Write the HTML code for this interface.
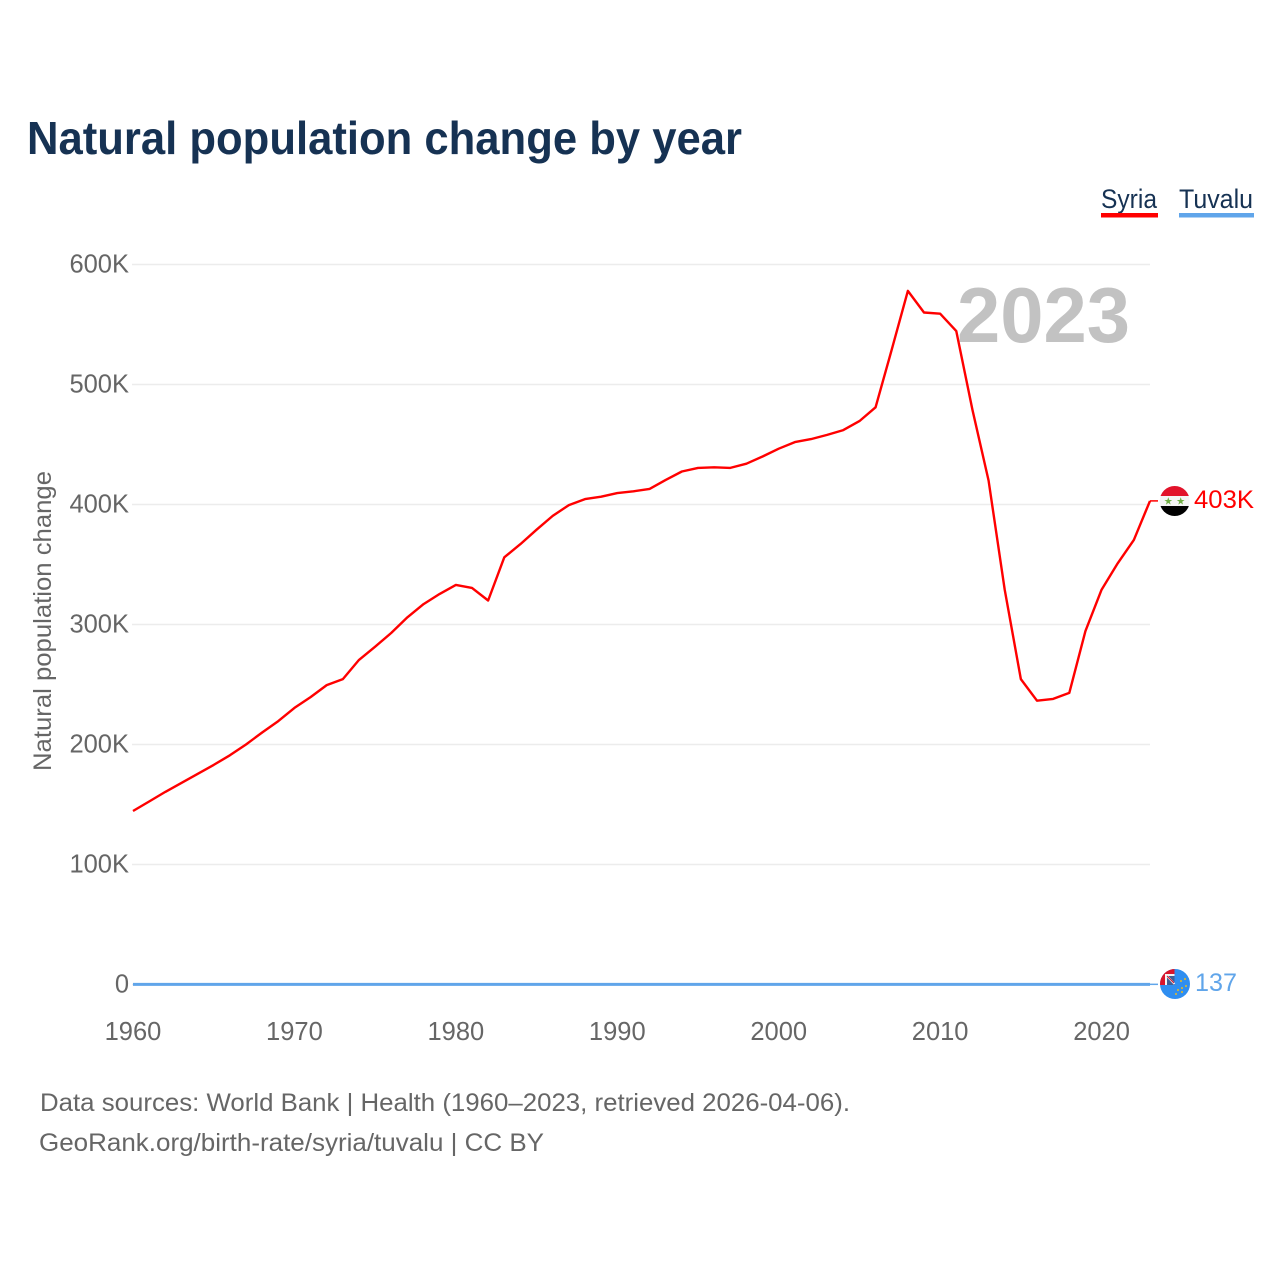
<!DOCTYPE html>
<html lang="en">
<head>
<meta charset="utf-8">
<title>Natural population change by year</title>
<style>
html,body{margin:0;padding:0;background:#fff;width:1280px;height:1280px;overflow:hidden}
svg{display:block;font-family:"Liberation Sans",sans-serif}
</style>
</head>
<body>
<svg id="chart" xmlns="http://www.w3.org/2000/svg" width="1280" height="1280" viewBox="0 0 1280 1280">
  <defs>
    <clipPath id="syria-clip"><circle cx="1174.7" cy="501" r="15"/></clipPath>
    <clipPath id="tuvalu-clip"><circle cx="1175" cy="984" r="15"/></clipPath>
  </defs>
  <rect width="1280" height="1280" fill="#fff"/>
  <text x="27" y="154" font-size="46.5" font-weight="700" fill="#163253" textLength="715" lengthAdjust="spacingAndGlyphs">Natural population change by year</text>

  <g>
    <text x="1101" y="208" font-size="27" fill="#163253" textLength="56" lengthAdjust="spacingAndGlyphs">Syria</text>
    <rect x="1101" y="213" width="57" height="4.5" fill="#ff0000"/>
  </g>
  <g>
    <text x="1179" y="208" font-size="27" fill="#163253" textLength="74" lengthAdjust="spacingAndGlyphs">Tuvalu</text>
    <rect x="1179" y="213" width="75" height="4.5" fill="#60a5ea"/>
  </g>

  <g id="grid"></g>
  <g id="y-ticks"></g>
  <g id="x-ticks"></g>
  <text transform="translate(51,621) rotate(-90)" text-anchor="middle" font-size="25" fill="#666" textLength="300" lengthAdjust="spacingAndGlyphs">Natural population change</text>
  <text id="year-label" x="957" y="342" font-size="78" font-weight="700" fill="#c2c2c2" textLength="173" lengthAdjust="spacingAndGlyphs"></text>

  <g id="series"></g>

  <g clip-path="url(#syria-clip)">
    <rect x="1159" y="485" width="32" height="11" fill="#e2122a"/>
    <rect x="1159" y="496" width="32" height="10" fill="#f4f4f4"/>
    <rect x="1159" y="506" width="32" height="11" fill="#000"/>
    <polygon points="1168.3,497.2 1169.3,500 1172.2,500 1169.8,501.8 1170.7,504.6 1168.3,502.9 1165.9,504.6 1166.8,501.8 1164.4,500 1167.3,500" fill="#6fae45"/>
    <polygon points="1180.7,497.2 1181.7,500 1184.6,500 1182.2,501.8 1183.1,504.6 1180.7,502.9 1178.3,504.6 1179.2,501.8 1176.8,500 1179.7,500" fill="#6fae45"/>
  </g>
  <g clip-path="url(#tuvalu-clip)">
    <rect x="1159" y="968" width="32" height="32" fill="#2f8ef0"/>
    <rect x="1159" y="968" width="15.5" height="17" fill="#d9152b"/>
    <rect x="1165" y="974" width="9.5" height="11" fill="#f4f4f4"/>
    <rect x="1167" y="976" width="7.5" height="9" fill="#3d5f97"/>
    <path d="M1166 975 L1174.5 984" stroke="#f4f4f4" stroke-width="2"/>
    <path d="M1167 976 L1174 983" stroke="#d9152b" stroke-width="1"/>
    <circle cx="1185" cy="979" r="1.1" fill="#c9b545"/>
    <circle cx="1181" cy="981" r="1.1" fill="#c9b545"/>
    <circle cx="1186" cy="986" r="1.1" fill="#c9b545"/>
    <circle cx="1182" cy="988" r="1.1" fill="#c9b545"/>
    <circle cx="1178" cy="990" r="1.1" fill="#c9b545"/>
    <circle cx="1182" cy="992" r="1.1" fill="#c9b545"/>
    <circle cx="1176" cy="994" r="1.1" fill="#c9b545"/>
  </g>

  <text x="1194" y="508" font-size="25" fill="#ff0000" textLength="60" lengthAdjust="spacingAndGlyphs">403K</text>
  <text x="1195" y="991" font-size="25" fill="#60a5ea" textLength="42" lengthAdjust="spacingAndGlyphs">137</text>

  <text x="40" y="1111" font-size="25" fill="#666" textLength="810" lengthAdjust="spacingAndGlyphs">Data sources: World Bank | Health (1960–2023, retrieved 2026-04-06).</text>
  <text x="39" y="1151" font-size="25" fill="#666" textLength="505" lengthAdjust="spacingAndGlyphs">GeoRank.org/birth-rate/syria/tuvalu | CC BY</text>
</svg>
<script>
const years = [1960,1961,1962,1963,1964,1965,1966,1967,1968,1969,1970,1971,1972,1973,1974,1975,1976,1977,1978,1979,1980,1981,1982,1983,1984,1985,1986,1987,1988,1989,1990,1991,1992,1993,1994,1995,1996,1997,1998,1999,2000,2001,2002,2003,2004,2005,2006,2007,2008,2009,2010,2011,2012,2013,2014,2015,2016,2017,2018,2019,2020,2021,2022,2023];
const syriaValues = [144.6,152.5,160.5,168,175.5,183,191,200,210,219.5,230.5,239.5,249.5,254.5,270.5,281.5,293,306,317,325.5,333,330.5,320,356,367,379,390.5,399.5,404.5,406.5,409.5,411,413,420.5,427.5,430.5,431,430.5,434,440,446.5,452,454.5,458,462,469.5,481,529,578,560,559,544.5,479,420,329,254.5,236.5,238,243,294.5,329,351,370.5,403];
const tuvaluValues = [0.15,0.15,0.15,0.15,0.14,0.14,0.14,0.14,0.14,0.14,0.13,0.13,0.13,0.13,0.14,0.14,0.14,0.14,0.14,0.14,0.14,0.14,0.14,0.14,0.14,0.14,0.14,0.14,0.14,0.14,0.14,0.14,0.14,0.14,0.14,0.14,0.14,0.14,0.14,0.14,0.14,0.14,0.14,0.14,0.14,0.14,0.14,0.14,0.14,0.14,0.14,0.14,0.14,0.14,0.14,0.14,0.14,0.14,0.14,0.14,0.14,0.14,0.14,0.137];
const yTickValues = [0,100,200,300,400,500,600];
const yTickLabels = ["0","100K","200K","300K","400K","500K","600K"];
const xTickValues = [1960,1970,1980,1990,2000,2010,2020];

const NS = "http://www.w3.org/2000/svg";
const xScale = function (year) {
  return 133 + (year - 1960) * (1150 - 133) / (2023 - 1960);
};
const yScale = function (value) {
  return 984.5 - value * 1.2;
};
const make = function (tag, parent, attrs) {
  const el = document.createElementNS(NS, tag);
  Object.keys(attrs).forEach(function (key) { el.setAttribute(key, attrs[key]); });
  parent.appendChild(el);
  return el;
};

const gridGroup = document.getElementById("grid");
const yTickGroup = document.getElementById("y-ticks");
const xTickGroup = document.getElementById("x-ticks");
const seriesGroup = document.getElementById("series");

yTickValues.forEach(function (value, i) {
  const line = make("line", gridGroup, {x1: 132, x2: 1150, y1: yScale(value), y2: yScale(value), stroke: "#ececec", "stroke-width": 1.5});
  
  
  const label = make("text", yTickGroup, {x: 129, y: yScale(value) + 8, "text-anchor": "end", "font-size": 25.5, fill: "#666"});
  
  
  label.textContent = yTickLabels[i];
});

xTickValues.forEach(function (year) {
  const label = make("text", xTickGroup, {x: xScale(year), y: 1040, "text-anchor": "middle", "font-size": 25.5, fill: "#666"});
  
  
  label.textContent = String(year);
});

const pointsFor = function (values) {
  return values.map(function (value, i) {
    return xScale(years[i]).toFixed(2) + "," + yScale(value).toFixed(2);
  }).join(" ");
};

const syriaLine = make("polyline", seriesGroup, {points: pointsFor(syriaValues), fill: "none", stroke: "#ff0000", "stroke-width": 2.4, "stroke-linejoin": "round"});



const tuvaluLine = make("polyline", seriesGroup, {points: pointsFor(tuvaluValues), fill: "none", stroke: "#60a5ea", "stroke-width": 3, "stroke-linejoin": "round"});



const lastIndex = years.length - 1;
const syriaConnector = make("line", seriesGroup, {x1: xScale(years[lastIndex]), x2: xScale(years[lastIndex]) + 8, y1: yScale(syriaValues[lastIndex]), y2: yScale(syriaValues[lastIndex]), stroke: "#ff0000", "stroke-width": 1.5});



const tuvaluConnector = make("line", seriesGroup, {x1: xScale(years[lastIndex]), x2: xScale(years[lastIndex]) + 8, y1: yScale(tuvaluValues[lastIndex]), y2: yScale(tuvaluValues[lastIndex]), stroke: "#60a5ea", "stroke-width": 1.5});



document.getElementById("year-label").textContent = String(years[lastIndex]);
</script>
</body>
</html>
